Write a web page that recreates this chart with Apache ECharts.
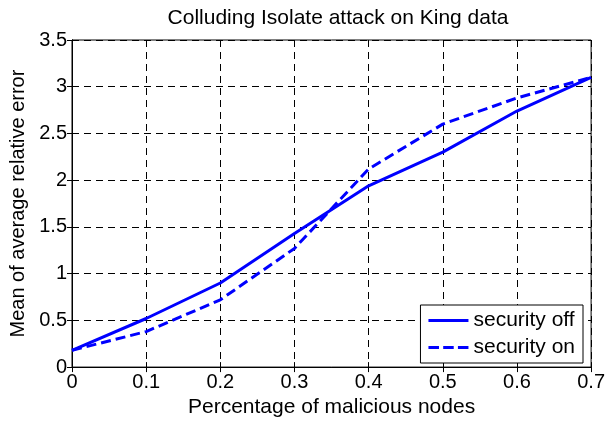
<!DOCTYPE html>
<html>
<head>
<meta charset="utf-8">
<script src="https://cdn.jsdelivr.net/npm/echarts@6/dist/echarts.min.js"></script>
<style>
html,body{margin:0;padding:0;background:#fff;}
#chart{width:608px;height:423px;}
</style>
</head>
<body>
<div id="chart"></div>
<script>
const fractions=[0,0.1,0.2,0.3,0.4,0.5,0.6,0.7];
const securityOff=[0.18,0.52,0.90,1.43,1.94,2.30,2.74,3.10];
const securityOn=[0.18,0.38,0.72,1.27,2.12,2.60,2.88,3.10];
const xTicks=['0','0.1','0.2','0.3','0.4','0.5','0.6','0.7'];

const font='Liberation Sans, Arial, sans-serif';
let chart=echarts.init(document.getElementById('chart'));
const toPairs=(ys)=>fractions.map((x,k)=>[x,ys[k]]);
let gridLine={show:true,lineStyle:{color:'#000',type:[7,5],width:1}};
let option={
	animation:false,
	backgroundColor:'#fff',
	title:{
		text:'Colluding Isolate attack on King data',
		left:333,top:3,textAlign:'center',
		textStyle:{fontFamily:font,fontSize:21,fontWeight:'normal',color:'#000'}
	},
	grid:{left:72,right:14,top:40,bottom:53,show:true,borderColor:'#000',borderWidth:1,backgroundColor:'#fff'},
	legend:{
		right:25,bottom:60,orient:'vertical',
		backgroundColor:'#fff',borderColor:'#000',borderWidth:1,borderRadius:0,
		padding:[5,8,5,8],itemGap:6,itemWidth:40,itemHeight:14,
		textStyle:{fontFamily:font,fontSize:21,color:'#000'},
		data:[
			{name:'security off',icon:'path://M0,6h40v3h-40z'},
			{name:'security on',icon:'path://M0,6h10v3h-10zM14,6h10v3h-10zM28,6h10v3h-10z'}
		]
	},
	xAxis:[{
		type:'value',min:0,max:0.7,interval:0.1,
		name:'Percentage of malicious nodes',nameLocation:'middle',nameGap:26,
		nameTextStyle:{fontFamily:font,fontSize:21,color:'#000'},
		axisLine:{lineStyle:{color:'#000'}},
		axisTick:{inside:true,length:5,lineStyle:{color:'#000'}},
		axisLabel:{fontFamily:font,fontSize:20,color:'#000',margin:5,formatter:(v)=>xTicks[Math.round(v*10)]},
		splitLine:gridLine
	},{
		type:'value',min:0,max:0.7,interval:0.1,position:'top',
		axisLine:{lineStyle:{color:'#000'}},
		axisTick:{inside:true,length:5,lineStyle:{color:'#000'}},
		axisLabel:{show:false},splitLine:{show:false}
	}],
	yAxis:[{
		type:'value',min:0,max:3.5,interval:0.5,
		name:'Mean of average relative error',nameLocation:'middle',nameGap:43,
		nameTextStyle:{fontFamily:font,fontSize:20,color:'#000'},
		axisLine:{show:true,lineStyle:{color:'#000'}},
		axisTick:{show:true,inside:true,length:5,lineStyle:{color:'#000'}},
		axisLabel:{fontFamily:font,fontSize:20,color:'#000',margin:5},
		splitLine:gridLine
	},{
		type:'value',min:0,max:3.5,interval:0.5,position:'right',
		axisLine:{show:true,lineStyle:{color:'#000'}},
		axisTick:{show:true,inside:true,length:5,lineStyle:{color:'#000'}},
		axisLabel:{show:false},splitLine:{show:false}
	}],
	series:[
		{
			name:'security off',type:'line',data:toPairs(securityOff),
			showSymbol:false,symbol:'none',
			lineStyle:{color:'#0000ff',width:3,type:'solid'},
			itemStyle:{color:'#0000ff'}
		},
		{
			name:'security on',type:'line',data:toPairs(securityOn),
			showSymbol:false,symbol:'none',
			lineStyle:{color:'#0000ff',width:3,type:[10,5]},
			itemStyle:{color:'#0000ff'}
		}
	]
};
chart.setOption(option,true);
</script>
</body>
</html>
